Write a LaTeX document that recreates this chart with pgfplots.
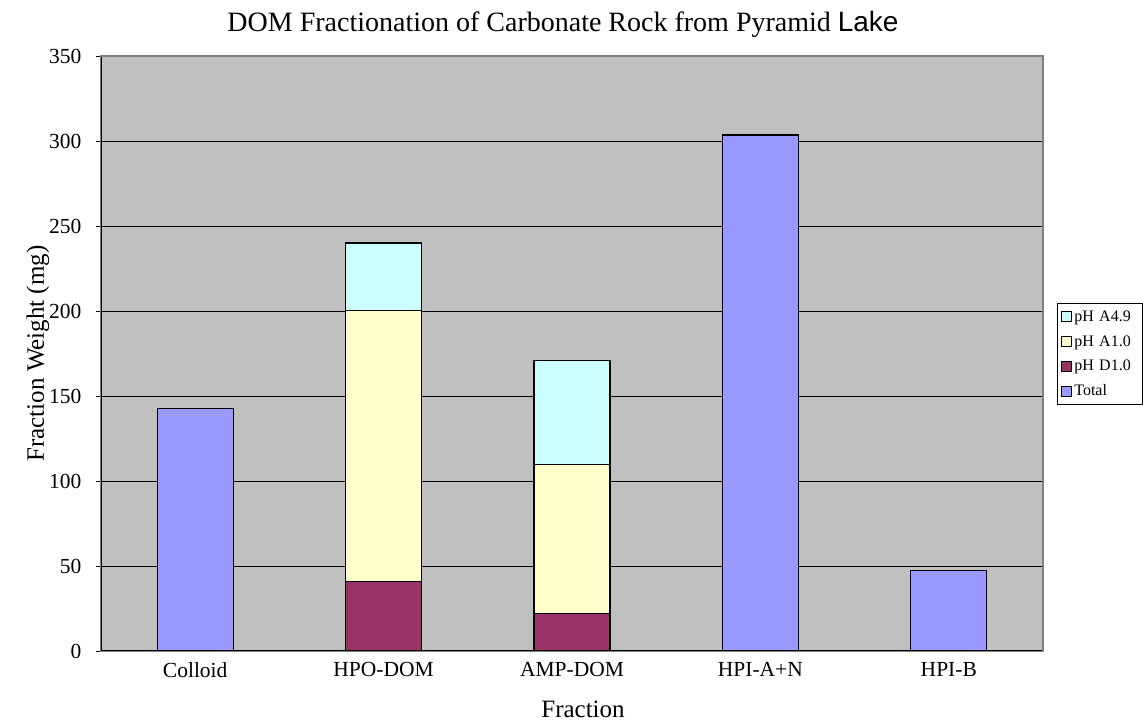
\documentclass[border=0pt]{standalone}
\usepackage{pgfplots}
\pgfplotsset{compat=1.18}
\usepackage{fontspec}
\setmainfont{Liberation Serif}
\newfontfamily\arialfont{Liberation Sans}

\definecolor{plotbg}{HTML}{C0C0C0}
\definecolor{frame}{HTML}{808080}
\definecolor{totalc}{HTML}{9999FF}
\definecolor{dphone}{HTML}{993366}
\definecolor{aphone}{HTML}{FFFFCC}
\definecolor{aphfour}{HTML}{CCFFFF}

\begin{document}
\begin{tikzpicture}[x=1pt,y=1pt]
\useasboundingbox (0,0) rectangle (1143,728);
\node[font=\fontsize{28}{33}\selectfont] at (563,704)
  {DOM Fractionation of Carbonate Rock from Pyramid {\arialfont Lake}};
\begin{axis}[
  at={(101pt,77pt)}, anchor=south west,
  scale only axis, width=942pt, height=595pt,
  ybar stacked, bar width=76pt,
  xmin=-0.5, xmax=4.5, ymin=0, ymax=350,
  xtick={0,1,2,3,4},
  xticklabels={Colloid,HPO-DOM,AMP-DOM,HPI-A+N,HPI-B},
  xtick pos=bottom, ytick pos=left,
  x tick style={draw=none},
  extra x ticks={-0.5,0.5,1.5,2.5,3.5,4.5},
  extra x tick labels={},
  extra x tick style={tick style={draw=black, line width=0.8pt}, major tick length=5pt, tick align=outside},
  ytick={0,50,...,350},
  y tick style={draw=black, line width=0.8pt},
  major tick length=5pt, tick align=outside,
  ymajorgrids, grid style={black, line width=0.9pt},
  axis line style={draw=frame, line width=1.5pt},
  axis background/.style={fill=plotbg},
  tick label style={font=\fontsize{21.5}{25}\selectfont},
  /pgf/number format/assume math mode=true,
  yticklabel style={xshift=-11pt},
  xticklabel style={yshift=-3pt},
  xlabel={Fraction}, ylabel={Fraction Weight (mg)},
  label style={font=\fontsize{25}{30}\selectfont},
  xlabel style={at={(axis description cs:0.5117,-0.0975)}, anchor=center},
  ylabel style={at={(axis description cs:-0.0669,0.5)}, anchor=center},
  every axis plot/.append style={draw=black, line width=1.1pt},
  legend style={at={(axis description cs:1.0149,0.5849)}, anchor=north west,
    draw=black, line width=0.8pt, font=\fontsize{16}{19}\selectfont,
    fill=white, inner xsep=4pt, inner ysep=5.5pt, row sep=8.5pt,
    nodes={text width=62pt}},
  legend cell align=left,
  legend image code/.code={\draw[#1, line width=0.9pt] (0pt,-5pt) rectangle (10pt,5pt);},
]
% stacked fractions: pH D1.0 at the bottom, then pH A1.0, then pH A4.9
\addplot[fill=dphone, forget plot] coordinates {(0,0) (1,41) (2,22) (3,0) (4,0)};
\addplot[fill=aphone, forget plot] coordinates {(0,0) (1,159.5) (2,87.5) (3,0) (4,0)};
\addplot[fill=aphfour, forget plot] coordinates {(0,0) (1,39.5) (2,61.5) (3,0) (4,0)};
% single-value fractions
\addplot[fill=totalc, forget plot] coordinates {(0,142.5) (1,0) (2,0) (3,303.5) (4,47.3)};

\addlegendimage{fill=aphfour, draw=black}
\addlegendentry{pH A4.9}
\addlegendimage{fill=aphone, draw=black}
\addlegendentry{pH A1.0}
\addlegendimage{fill=dphone, draw=black}
\addlegendentry{pH D1.0}
\addlegendimage{fill=totalc, draw=black}
\addlegendentry{Total}

% plot-area frame: grey top and right, black left and bottom
\draw[frame, line width=1.5pt] (rel axis cs:0,1) -- (rel axis cs:1,1) -- (rel axis cs:1,0);
\draw[black, line width=1.2pt] (rel axis cs:0,1) -- (rel axis cs:0,0) -- (rel axis cs:1,0);
\end{axis}
\end{tikzpicture}
\end{document}
